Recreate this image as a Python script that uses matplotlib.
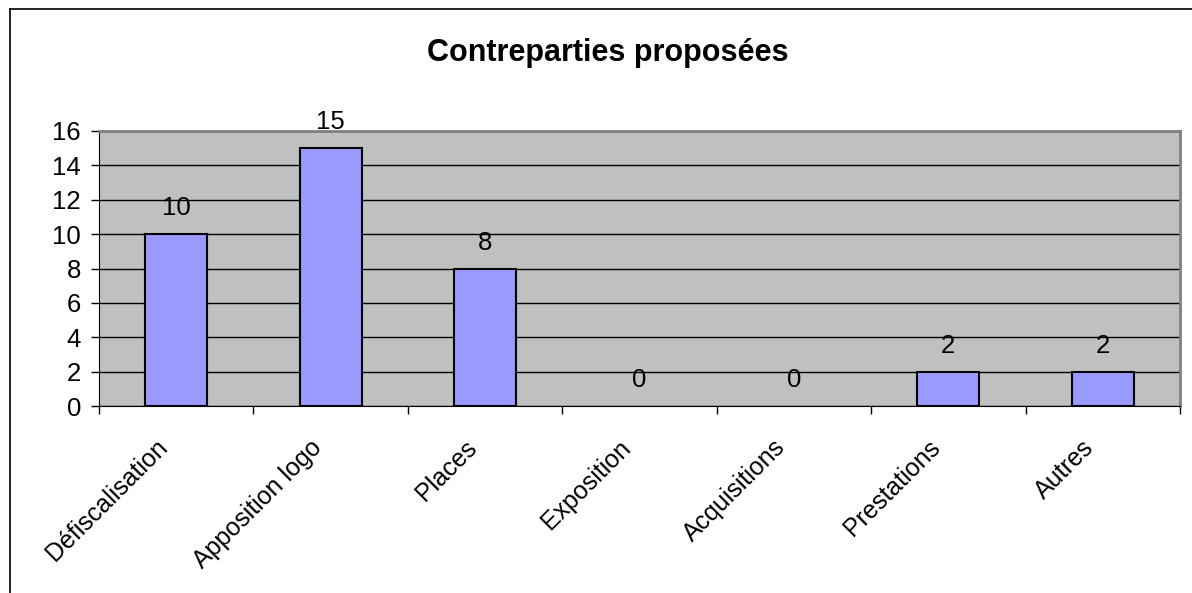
import matplotlib.pyplot as plt
from matplotlib.lines import Line2D

plt.rcParams['font.family'] = ['Liberation Sans', 'DejaVu Sans']

# data
categories = ["Défiscalisation", "Apposition logo", "Places", "Exposition",
              "Acquisitions", "Prestations", "Autres"]
counts = [10, 15, 8, 0, 0, 2, 2]
yticks = [0, 2, 4, 6, 8, 10, 12, 14, 16]

fig = plt.figure(figsize=(11.92, 5.93), dpi=100)
ax = fig.add_axes([99 / 1192, 1 - 406 / 593, (1180 - 99) / 1192, (406 - 131) / 593])

# chart frame (only left and top visible in the crop)
fig.add_artist(Line2D([10 / 1192, 10 / 1192], [0, 1 - 9 / 593], color='black', lw=1.2,
                      transform=fig.transFigure))
fig.add_artist(Line2D([10 / 1192, 1], [1 - 9 / 593, 1 - 9 / 593], color='black', lw=1.2,
                      transform=fig.transFigure))

x = list(range(len(categories)))
ax.set_facecolor('#C0C0C0')
bars = ax.bar(x, counts, width=0.4, color='#9999FF', edgecolor='black', linewidth=1.5, zorder=3)
for b, v in zip(bars, counts):
    if v == 0:
        b.set_linewidth(0)

ax.set_xlim(-0.5, len(categories) - 0.5)
ax.set_ylim(0, 16)
ax.set_yticks(yticks)
ax.set_yticklabels([str(v) for v in yticks], fontsize=18.5)
ax.yaxis.grid(True, color='black', linewidth=1)
ax.set_axisbelow(True)

ax.set_xticks([i - 0.5 for i in range(len(categories) + 1)])
ax.set_xticklabels([])
ax.tick_params(axis='x', length=6, width=1, direction='out')
ax.tick_params(axis='y', length=6, width=1, direction='out', pad=7)

for i, name in enumerate(categories):
    ax.annotate(name, xy=(i, 0), xycoords=('data', 'axes fraction'),
                xytext=(-15, -21), textcoords='offset points',
                rotation=45, rotation_mode='anchor', ha='right', va='top', fontsize=18)

for i, v in enumerate(counts):
    ax.annotate(str(v), xy=(i, v), xytext=(0, 10), textcoords='offset points',
                ha='center', va='bottom', fontsize=18.5)

for side in ['top', 'right']:
    ax.spines[side].set_color('#808080')
    ax.spines[side].set_linewidth(2)
ax.spines['left'].set_color('black')
ax.spines['bottom'].set_color('black')

fig.text(0.5 * (425 + 790) / 1192, 1 - 53 / 593, "Contreparties proposées", ha='center', va='center',
         fontsize=22, fontweight='bold')

fig.savefig('out.png', dpi=100)
